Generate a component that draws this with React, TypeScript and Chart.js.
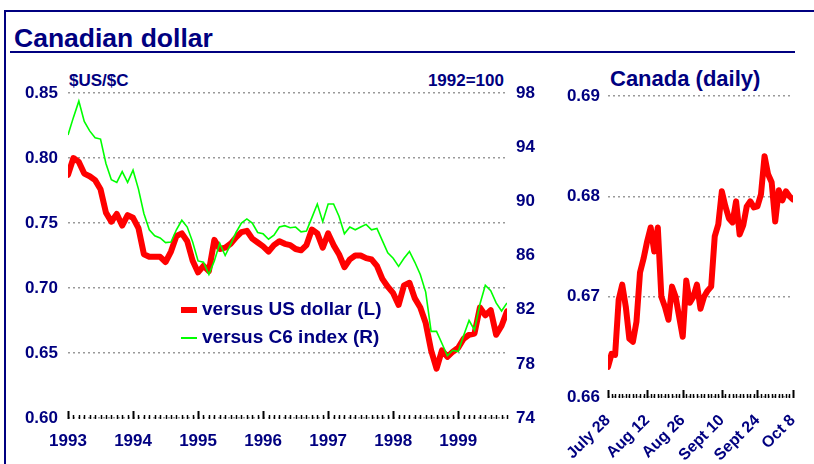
import React, { useEffect, useRef } from "react";
import { Chart, registerables } from "chart.js";

Chart.register(...registerables);

const NAVY = "#000080";
const FONT = "'Liberation Sans', Arial, Helvetica, sans-serif";

// ---- Monthly panel (Jan 1993 .. Oct 1999) ----
const yearLabels = ["1993", "1994", "1995", "1996", "1997", "1998", "1999"];
const monthsPerYear = 12;
const usDollar = [
  0.787, 0.800, 0.797, 0.788, 0.786, 0.783, 0.776, 0.758, 0.751, 0.757,
  0.748, 0.756, 0.754, 0.746, 0.726, 0.724, 0.724, 0.724, 0.720, 0.728,
  0.740, 0.742, 0.736, 0.721, 0.712, 0.717, 0.713, 0.737, 0.730, 0.731,
  0.734, 0.739, 0.743, 0.744, 0.738, 0.735, 0.732, 0.728, 0.733, 0.736,
  0.734, 0.733, 0.730, 0.729, 0.733, 0.745, 0.742, 0.731, 0.742, 0.733,
  0.726, 0.716, 0.722, 0.725, 0.725, 0.723, 0.722, 0.717, 0.707, 0.701,
  0.696, 0.687, 0.702, 0.704, 0.692, 0.685, 0.673, 0.652, 0.638, 0.652,
  0.647, 0.651, 0.654, 0.661, 0.664, 0.665, 0.685, 0.679, 0.683, 0.664,
  0.671, 0.682,
];
const c6Index = [
  94.9, 96.2, 97.4, 95.9, 95.2, 94.7, 94.6, 92.8, 91.6, 91.4,
  92.2, 91.4, 92.3, 90.9, 89.1, 87.9, 87.45, 87.3, 86.95, 87.0,
  87.9, 88.6, 88.1, 87.0, 85.6, 85.5, 84.6, 85.6, 86.9, 86.0,
  86.8, 87.7, 88.4, 88.7, 88.4, 87.7, 87.6, 87.2, 87.5, 88.1,
  88.2, 88.05, 88.1, 87.75, 87.8, 88.8, 89.8, 88.5, 89.8, 89.8,
  88.9, 87.6, 88.1, 87.9, 88.1, 88.3, 87.9, 88.0, 87.1, 86.2,
  85.8, 85.2, 85.8, 86.3, 85.5, 84.6, 83.3, 80.4, 80.4, 79.5,
  78.6, 79.0, 78.9, 80.1, 81.2, 80.5, 82.4, 83.8, 83.4, 82.5,
  81.9, 82.5,
];
const usdAxisTicks = [0.6, 0.65, 0.7, 0.75, 0.8, 0.85];
const indexAxisTicks = [74, 78, 82, 86, 90, 94, 98];
const seriesLabels = ["versus US dollar (L)", "versus C6 index (R)"];

// ---- Daily panel (business days, July 28 .. Oct 8 1999) ----
const dailyTickLabels = ["July 28", "Aug 12", "Aug 26", "Sept 10", "Sept 24", "Oct 8"];
const dailyTickDays = [0, 11, 21, 32, 42, 52];
const dailyRate = [
  0.6630, 0.6643, 0.6642, 0.6697, 0.6712, 0.6690, 0.6658, 0.6655, 0.6675, 0.6724,
  0.6738, 0.6755, 0.6769, 0.6745, 0.6769, 0.6700, 0.6690, 0.6677, 0.6710, 0.6700,
  0.6680, 0.6660, 0.6716, 0.6694, 0.6700, 0.6712, 0.6688, 0.6700, 0.6706, 0.6710,
  0.6760, 0.6772, 0.6805, 0.6790, 0.6778, 0.6774, 0.6795, 0.6762, 0.6771, 0.6790,
  0.6795, 0.6789, 0.6790, 0.6802, 0.6840, 0.6822, 0.6814, 0.6775, 0.6806, 0.6796,
  0.6805, 0.6800, 0.6797,
];
const dailyAxisTicks = [0.66, 0.67, 0.68, 0.69];

const RED = "#ff0000";
const GREEN = "#00ff00";

function tickMarksPlugin(count: number, isMajor: (i: number) => boolean) {
  return {
    id: "tickMarks",
    afterDraw(chart: any) {
      const xs = chart.scales.x;
      const area = chart.chartArea;
      const ctx = chart.ctx;
      ctx.save();
      ctx.strokeStyle = "#000000";
      for (let i = 0; i < count; i++) {
        const px = Math.round(xs.getPixelForValue(i)) + 0.5;
        const major = isMajor(i);
        ctx.lineWidth = major ? 2 : 1.5;
        ctx.beginPath();
        ctx.moveTo(px, area.bottom + 1);
        ctx.lineTo(px, area.bottom - (major ? 7 : 3));
        ctx.stroke();
      }
      ctx.restore();
    },
  };
}

const tickFont = { family: FONT, size: 17, weight: "bold" as const };

export default function App() {
  const leftRef = useRef<HTMLCanvasElement>(null);
  const rightRef = useRef<HTMLCanvasElement>(null);

  useEffect(() => {
    document.body.style.margin = "0";
    const left = new Chart(leftRef.current!, {
      type: "line",
      data: {
        datasets: [
          {
            label: seriesLabels[1],
            data: c6Index.map((v, i) => ({ x: i, y: v })),
            yAxisID: "yR",
            borderColor: GREEN,
            borderWidth: 1.6,
            pointRadius: 0,
            tension: 0,
          },
          {
            label: seriesLabels[0],
            data: usDollar.map((v, i) => ({ x: i, y: v })),
            yAxisID: "yL",
            borderColor: RED,
            borderWidth: 6,
            pointRadius: 0,
            tension: 0,
            borderJoinStyle: "round",
            borderCapStyle: "round",
          },
        ],
      },
      options: {
        responsive: false,
        animation: false,
        devicePixelRatio: 1,
        layout: { padding: { top: 93, left: 0, right: 0, bottom: 0 } },
        plugins: { legend: { display: false }, tooltip: { enabled: false } },
        scales: {
          x: {
            type: "linear",
            min: 0,
            max: usDollar.length - 1,
            grid: { display: false },
            border: { display: false },
            afterBuildTicks: (s: any) => {
              s.ticks = yearLabels.map((_, k) => ({ value: k * monthsPerYear }));
            },
            afterFit: (s: any) => {
              s.height = 46;
            },
            ticks: {
              autoSkip: false,
              maxRotation: 0,
              color: NAVY,
              font: tickFont,
              padding: 5,
              callback: (v: any) => yearLabels[Math.round(v / monthsPerYear)],
            },
          },
          yL: {
            position: "left",
            min: usdAxisTicks[0],
            max: usdAxisTicks[usdAxisTicks.length - 1],
            afterBuildTicks: (s: any) => {
              s.ticks = usdAxisTicks.map((v) => ({ value: v }));
            },
            afterFit: (s: any) => {
              s.width = 68;
            },
            grid: { color: "#9a9a9a", lineWidth: 1.5, drawTicks: false },
            border: { display: false, dash: [2, 3] },
            ticks: {
              color: NAVY,
              font: tickFont,
              padding: 10,
              callback: (v: any) => Number(v).toFixed(2),
            },
          },
          yR: {
            position: "right",
            min: indexAxisTicks[0],
            max: indexAxisTicks[indexAxisTicks.length - 1],
            afterBuildTicks: (s: any) => {
              s.ticks = indexAxisTicks.map((v) => ({ value: v }));
            },
            afterFit: (s: any) => {
              s.width = 38;
            },
            grid: { display: false, drawTicks: false },
            border: { display: false },
            ticks: { color: NAVY, font: tickFont, padding: 9 },
          },
        },
      },
      plugins: [tickMarksPlugin(usDollar.length, (i) => i % monthsPerYear === 0)],
    } as any);

    const right = new Chart(rightRef.current!, {
      type: "line",
      data: {
        datasets: [
          {
            label: "Canada (daily)",
            data: dailyRate.map((v, i) => ({ x: i, y: v })),
            borderColor: RED,
            borderWidth: 6,
            pointRadius: 0,
            tension: 0,
            borderJoinStyle: "round",
            borderCapStyle: "round",
          },
        ],
      },
      options: {
        responsive: false,
        animation: false,
        devicePixelRatio: 1,
        layout: { padding: { top: 96, right: 21, left: 0, bottom: 0 } },
        plugins: { legend: { display: false }, tooltip: { enabled: false } },
        scales: {
          x: {
            type: "linear",
            min: 0,
            max: dailyRate.length - 1,
            grid: { display: false },
            border: { display: false },
            afterBuildTicks: (s: any) => {
              s.ticks = dailyTickDays.map((d) => ({ value: d }));
            },
            afterFit: (s: any) => {
              s.height = 67;
            },
            ticks: {
              autoSkip: false,
              minRotation: 45,
              maxRotation: 45,
              color: NAVY,
              font: { family: FONT, size: 16, weight: "bold" },
              padding: 6,
              callback: (v: any) => dailyTickLabels[dailyTickDays.indexOf(Math.round(v))],
            },
          },
          y: {
            position: "left",
            min: dailyAxisTicks[0],
            max: dailyAxisTicks[dailyAxisTicks.length - 1],
            afterBuildTicks: (s: any) => {
              s.ticks = dailyAxisTicks.map((v) => ({ value: v }));
            },
            afterFit: (s: any) => {
              s.width = 63;
            },
            grid: { color: "#9a9a9a", lineWidth: 1.5, drawTicks: false },
            border: { display: false, dash: [2, 3] },
            ticks: {
              color: NAVY,
              font: tickFont,
              padding: 8,
              callback: (v: any) => Number(v).toFixed(2),
            },
          },
        },
      },
      plugins: [tickMarksPlugin(dailyRate.length, (i) => dailyTickDays.includes(i))],
    } as any);

    return () => {
      left.destroy();
      right.destroy();
    };
  }, []);

  const text = (extra: React.CSSProperties): React.CSSProperties => ({
    position: "absolute",
    fontFamily: FONT,
    fontWeight: "bold",
    color: NAVY,
    whiteSpace: "nowrap",
    ...extra,
  });

  return (
    <div style={{ position: "absolute", left: 0, top: 0, width: 814, height: 464, background: "#ffffff", overflow: "hidden" }}>
      <div style={{ position: "absolute", left: 4, top: 10, width: 810, height: 2, background: NAVY }} />
      <div style={{ position: "absolute", left: 4, top: 10, width: 2, height: 454, background: NAVY }} />
      <div style={text({ left: 14, top: 25, fontSize: 26.5, lineHeight: "26px" })}>Canadian dollar</div>
      <div style={{ position: "absolute", left: 10, top: 51, width: 785, height: 2, background: NAVY }} />
      <div style={text({ left: 69, top: 72, fontSize: 17, lineHeight: "17px" })}>$US/$C</div>
      <div style={text({ left: 404, width: 100, textAlign: "right", top: 72, fontSize: 17, lineHeight: "17px" })}>1992=100</div>
      <div style={text({ left: 610, top: 68, fontSize: 22, lineHeight: "22px" })}>Canada (daily)</div>

      <canvas ref={leftRef} width={545} height={464} style={{ position: "absolute", left: 0, top: 0, width: 545, height: 464 }} />
      <canvas ref={rightRef} width={269} height={464} style={{ position: "absolute", left: 545, top: 0, width: 269, height: 464 }} />

      <div style={{ position: "absolute", left: 181, top: 307, width: 16, height: 6, background: RED }} />
      <div style={text({ left: 202, top: 299, fontSize: 19, lineHeight: "19px" })}>{seriesLabels[0]}</div>
      <div style={{ position: "absolute", left: 181, top: 337, width: 16, height: 2, background: GREEN }} />
      <div style={text({ left: 202, top: 327, fontSize: 19, lineHeight: "19px" })}>{seriesLabels[1]}</div>
    </div>
  );
}
